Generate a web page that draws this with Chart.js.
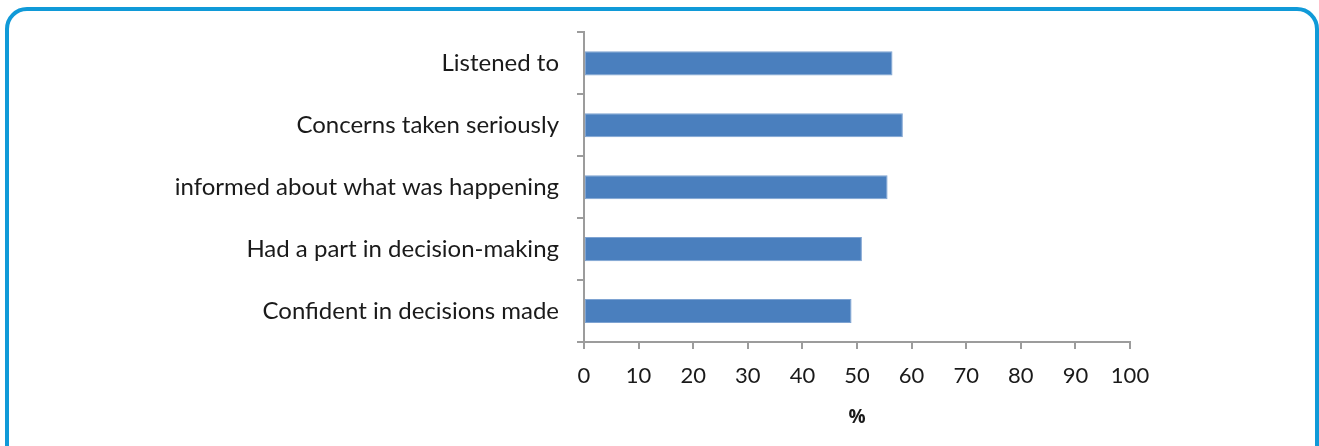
<!DOCTYPE html>
<html>
<head>
<meta charset="utf-8">
<script src="https://cdn.jsdelivr.net/npm/chart.js@4"></script>
<style>
  html, body { margin: 0; padding: 0; background: #fff; overflow: hidden; }
  #frame {
    position: absolute; left: 5px; top: 7px;
    width: 1306px; height: 470px;
    border: 4px solid #109ad8; border-radius: 22px;
  }
  #wrap { position: absolute; left: 0; top: 0; width: 1319px; height: 446px; }
</style>
</head>
<body>
<div id="frame"></div>
<div id="wrap"><canvas id="chart"></canvas></div>
<script>
// categories, top to bottom
const categories = [
    'Listened to',
    'Concerns taken seriously',
    'informed about what was happening',
    'Had a part in decision-making',
    'Confident in decisions made'
];
// percent of respondents
const percentValues = [56.5, 58.4, 55.6, 50.9, 49.0];
const xTicks = [0, 10, 20, 30, 40, 50, 60, 70, 80, 90, 100];

const axisGray = '#9c9c9c';
const textColor = '#1a1a1a';
const fontFamily = 'Lato, "Open Sans", sans-serif';

new Chart(document.getElementById('chart'), {
    type: 'bar',
    data: {
        labels: categories,
        datasets: [{
            data: percentValues,
            backgroundColor: '#4a7fbe',
            borderColor: '#7ea3d2',
            borderWidth: 1,
            borderSkipped: false,
            barPercentage: 0.39,
            categoryPercentage: 1
        }]
    },
    options: {
        indexAxis: 'y',
        responsive: true,
        maintainAspectRatio: false,
        animation: false,
        layout: {
            padding: { top: 30, right: 189, bottom: 0, left: 0 }
        },
        plugins: {
            legend: { display: false },
            tooltip: { enabled: false }
        },
        scales: {
            y: {
                grid: {
                    drawOnChartArea: false,
                    color: axisGray,
                    lineWidth: 2,
                    tickLength: 7,
                    offset: true
                },
                border: { color: axisGray, width: 2 },
                ticks: {
                    color: textColor,
                    padding: 18,
                    font: { family: fontFamily, size: 24 }
                },
                afterFit: (scale) => { scale.width = 584; }
            },
            x: {
                min: 0,
                max: 100,
                afterBuildTicks: (scale) => {
                    scale.ticks = xTicks.map(v => ({ value: v }));
                },
                grid: {
                    drawOnChartArea: false,
                    color: axisGray,
                    lineWidth: 2,
                    tickLength: 7
                },
                border: { color: axisGray, width: 2 },
                ticks: {
                    color: textColor,
                    padding: 14,
                    maxRotation: 0,
                    font: { family: fontFamily, size: 22 }
                },
                title: {
                    display: true,
                    text: '%',
                    color: textColor,
                    font: { family: '"Open Sans", sans-serif', size: 19, weight: 'bold' },
                    padding: { top: 6, bottom: 17 }
                },
                afterFit: (scale) => { scale.height = 104; }
            }
        }
    }
});
</script>
</body>
</html>
